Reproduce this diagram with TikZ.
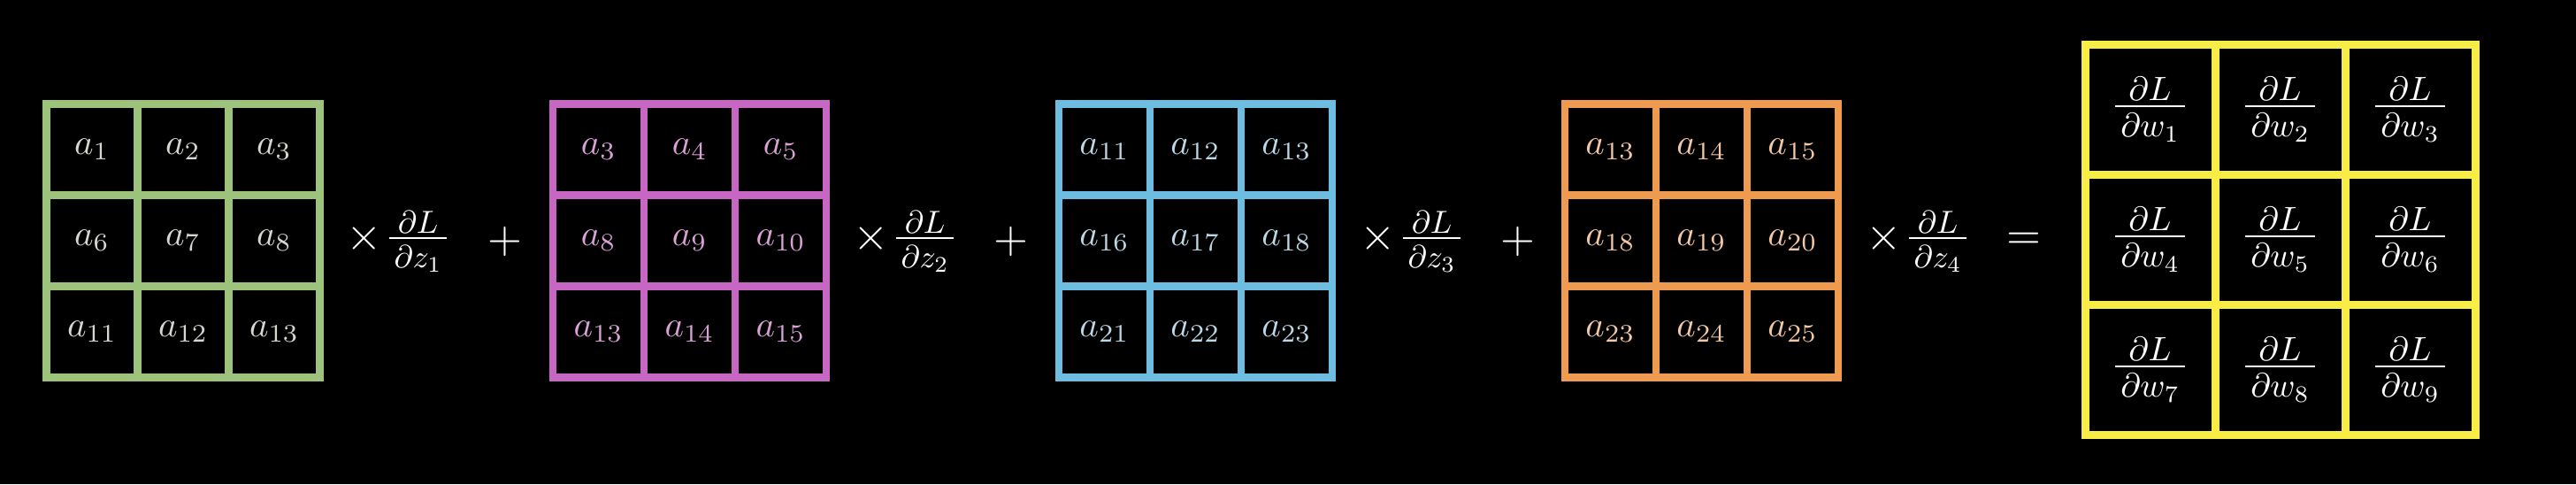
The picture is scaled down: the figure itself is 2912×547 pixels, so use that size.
\documentclass[tikz,border=0pt]{standalone}
\usepackage{amsmath}
\usepackage{graphicx}
\definecolor{cgreen}{HTML}{9CC27C}
\definecolor{cpink}{HTML}{C866C4}
\definecolor{cblue}{HTML}{6CBDE0}
\definecolor{corange}{HTML}{EE9A4F}
\definecolor{cyellow}{HTML}{F8EC46}
\definecolor{tgreen}{HTML}{D4D8D0}
\definecolor{tpink}{HTML}{D9A2D5}
\definecolor{tblue}{HTML}{BCD8E6}
\definecolor{torange}{HTML}{F2C8A6}
\newcommand{\pfrac}[2]{\vcenter{\offinterlineskip\halign{\hfil\hskip1.6pt$##$\hskip1.6pt\hfil\cr #1\cr\noalign{\kern1.3pt\hrule height0.6pt\kern2pt}#2\cr}}}
\tikzset{
  cell/.style={rectangle, inner sep=0pt, outer sep=0pt, line width=2.1pt,
    minimum width=25.75pt, minimum height=25.75pt},
  bigcell/.style={rectangle, inner sep=0pt, outer sep=0pt, line width=2.25pt,
    draw=cyellow, text=white,
    minimum width=36.75pt, minimum height=36.75pt},
  factor/.style={inner sep=0pt, text=white, anchor=west},
  sign/.style={inner sep=0pt, text=white}
}
\newcommand{\smallgrid}[5]{%
  \foreach \lab [count=\k from 0] in {#5} {
    \pgfmathtruncatemacro{\row}{\k/3}
    \pgfmathtruncatemacro{\col}{mod(\k,3)}
    \node[cell, draw=#3, text=#4] (#1-\k) at ({#2+103*(\col+0.5)},{117.5+103*(\row+0.5)}) {\scalebox{1.02}{$a_{\lab}$}};
  }
}
\newcommand{\factor}[3]{%
  \node[factor] (#1) at (#2,273) {\scalebox{1.3}{$\times$}\hspace{1.9pt}\scalebox{0.9}{$\pfrac{\partial L}{\partial z_{#3}}$}};
}
\begin{document}
\begin{tikzpicture}[x=0.25pt,y=-0.25pt]
\fill[black] (0,0) rectangle (2912,547);
\useasboundingbox (0,0) rectangle (2912,547);
\smallgrid{ga}{52.6}{cgreen}{tgreen}{1,2,3,6,7,8,11,12,13}
\smallgrid{gb}{625.2}{cpink}{tpink}{3,4,5,8,9,10,13,14,15}
\smallgrid{gc}{1197}{cblue}{tblue}{11,12,13,16,17,18,21,22,23}
\smallgrid{gd}{1769}{corange}{torange}{13,14,15,18,19,20,23,24,25}
\factor{fa}{391}{1}
\factor{fb}{964}{2}
\factor{fc}{1537}{3}
\factor{fd}{2109}{4}
\node[sign] (p1) at (571,273) {\scalebox{1.25}{$+$}};
\node[sign] (p2) at (1143,273) {\scalebox{1.25}{$+$}};
\node[sign] (p3) at (1716,273) {\scalebox{1.25}{$+$}};
\node[sign] (eq) at (2288,272.5) {\scalebox{1.25}{$=$}};
\foreach \k in {0,...,8} {
  \pgfmathtruncatemacro{\row}{\k/3}
  \pgfmathtruncatemacro{\col}{mod(\k,3)}
  \pgfmathtruncatemacro{\w}{\k+1}
  \node[bigcell] (w-\k) at ({2357+147*(\col+0.5)},{50.5+147*(\row+0.5)}) {\scalebox{0.95}{$\pfrac{\partial L}{\partial w_{\w}}$}};
}
\end{tikzpicture}
\end{document}
